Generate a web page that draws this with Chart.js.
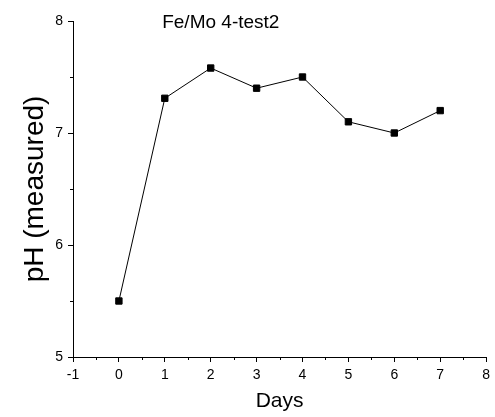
<!DOCTYPE html>
<html>
<head>
<meta charset="utf-8">
<script src="https://cdn.jsdelivr.net/npm/chart.js@4/dist/chart.umd.min.js"></script>
<style>
  html, body { margin: 0; padding: 0; background: #fff; }
  #wrap { width: 495px; height: 417px; }
</style>
</head>
<body>
<div id="wrap"><canvas id="phChart" width="495" height="417"></canvas></div>
<script>
const days = [0, 1, 2, 3, 4, 5, 6, 7];
const phValues = [5.5, 7.31, 7.58, 7.4, 7.5, 7.1, 7.0, 7.2];
const xMinorTicks = [-0.5, 0.5, 1.5, 2.5, 3.5, 4.5, 5.5, 6.5, 7.5];
const yMinorTicks = [5.5, 6.5, 7.5];
const chartTitle = 'Fe/Mo 4-test2';

const FONT = "'Liberation Sans', Arial, sans-serif";

// minor ticks + title text inside the plot
const extras = {
  id: 'extras',
  afterDraw(chart) {
    const { ctx, scales: { x, y }, chartArea } = chart;
    ctx.save();
    ctx.strokeStyle = '#000';
    ctx.lineWidth = 1;
    ctx.beginPath();
    xMinorTicks.forEach(v => {
      const px = Math.round(x.getPixelForValue(v)) + 0.5;
      ctx.moveTo(px, chartArea.bottom);
      ctx.lineTo(px, chartArea.bottom + 3);
    });
    yMinorTicks.forEach(v => {
      const py = Math.round(y.getPixelForValue(v)) + 0.5;
      ctx.moveTo(chartArea.left, py);
      ctx.lineTo(chartArea.left - 3, py);
    });
    ctx.stroke();

    ctx.fillStyle = '#000';
    ctx.font = '19px ' + FONT;
    ctx.textAlign = 'center';
    ctx.textBaseline = 'alphabetic';
    ctx.fillText(chartTitle, x.getPixelForValue(2.22), chartArea.top + 7);
    ctx.restore();
  }
};

new Chart(document.getElementById('phChart'), {
  type: 'line',
  data: {
    datasets: [{
      data: days.map((d, i) => ({ x: d, y: phValues[i] })),
      borderColor: '#000',
      borderWidth: 1,
      backgroundColor: '#000',
      pointStyle: 'rect',
      pointRadius: 4.5,
      pointBorderWidth: 1,
      tension: 0
    }]
  },
  options: {
    responsive: false,
    animation: false,
    layout: { padding: { top: 21, right: 6, left: 0, bottom: 0 } },
    plugins: {
      legend: { display: false },
      tooltip: { enabled: false }
    },
    scales: {
      x: {
        type: 'linear',
        min: -1,
        max: 8,
        afterFit: s => { s.height = 60; },
        ticks: { stepSize: 1, color: '#000', padding: 5, font: { family: FONT, size: 14 } },
        grid: { drawOnChartArea: false, tickLength: 5, color: '#000' },
        border: { color: '#000', width: 1 },
        title: { display: true, text: 'Days', color: '#000', padding: { bottom: 3 }, font: { family: FONT, size: 21 } }
      },
      y: {
        min: 5,
        max: 8,
        afterFit: s => { s.width = 73; },
        ticks: { stepSize: 1, color: '#000', padding: 5, font: { family: FONT, size: 14 } },
        grid: { drawOnChartArea: false, tickLength: 5, color: '#000' },
        border: { color: '#000', width: 1 },
        title: { display: true, text: 'pH (measured)', color: '#000', padding: { top: 18 }, font: { family: FONT, size: 28 } }
      }
    }
  },
  plugins: [extras]
});
</script>
</body>
</html>
